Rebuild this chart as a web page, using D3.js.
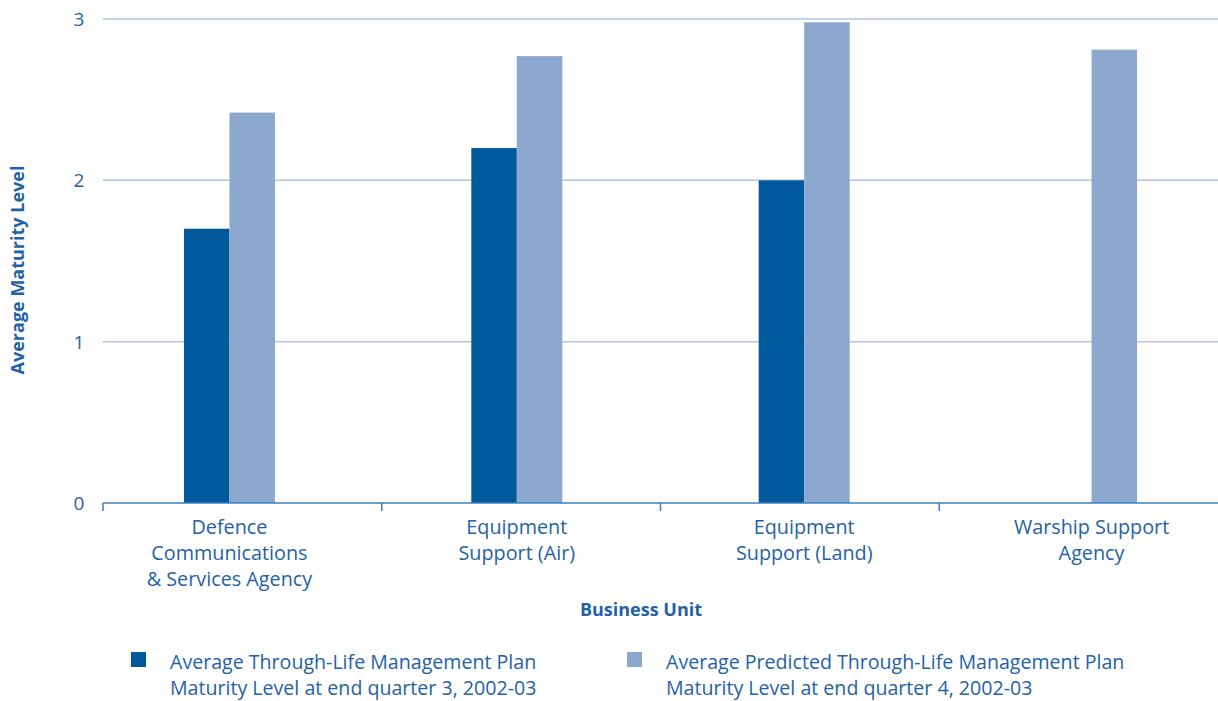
<!DOCTYPE html>
<html>
<head>
<meta charset="utf-8">
<script src="https://cdn.jsdelivr.net/npm/d3@7"></script>
<style>
  body { margin: 0; background: #fff; }
  svg text { font-family: "Open Sans", sans-serif; fill: #1f62a6; }
</style>
</head>
<body>
<svg id="chart" width="1218" height="701"></svg>
<script>
// data
var units = [ ["Defence", "Communications", "& Services Agency"],
              ["Equipment", "Support (Air)"],
              ["Equipment", "Support (Land)"],
              ["Warship Support", "Agency"] ];
var q3 = [ 1.7, 2.2, 2.0, null ];
var q4 = [ 2.42, 2.77, 2.98, 2.81 ];
var yTicks = [ 0, 1, 2, 3 ];
var seriesNames = [
    ["Average Through-Life Management Plan", "Maturity Level at end quarter 3, 2002-03"],
    ["Average Predicted Through-Life Management Plan", "Maturity Level at end quarter 4, 2002-03"] ];
var colors = [ "#00599c", "#8ca8cf" ];

window.addEventListener( "load", makeChart );
function makeChart() {
    var svg = d3.select( "#chart" );
    var left = 103, right = 1218, top = 19, bottom = 503;

    // band scale for the axis ticks, point scale for the bar groups
    var x = d3.scaleBand().domain( d3.range(units.length) ).range( [left, right] );
    var xc = d3.scalePoint().domain( d3.range(units.length) ).range( [left, right] ).padding( 0.44 );
    var y = d3.scaleLinear().domain( [0, 3] ).range( [bottom, top] );
    var barW = 45.5;

    // gridlines
    svg.append( "g" ).selectAll( "line" ).data( yTicks.filter(d=>d>0) ).enter()
        .append( "line" )
        .attr( "x1", left ).attr( "x2", right )
        .attr( "y1", d=>y(d) ).attr( "y2", d=>y(d) )
        .attr( "stroke", "#b4c6de" ).attr( "stroke-width", 1.5 );

    // y tick labels
    svg.append( "g" ).selectAll( "text" ).data( yTicks ).enter()
        .append( "text" )
        .attr( "x", 79 ).attr( "y", d=>y(d)+7 )
        .attr( "text-anchor", "middle" ).attr( "font-size", 19 )
        .text( d=>d );

    // bars
    var bars = [];
    units.forEach( function(u, i) {
        if( q3[i] != null ) bars.push( { i: i, s: 0, v: q3[i] } );
        if( q4[i] != null ) bars.push( { i: i, s: 1, v: q4[i] } );
    } );
    svg.append( "g" ).selectAll( "rect" ).data( bars ).enter()
        .append( "rect" )
        .attr( "x", d=>xc(d.i) - barW + d.s*barW )
        .attr( "y", d=>y(d.v) )
        .attr( "width", barW )
        .attr( "height", d=>y(0)-y(d.v) )
        .attr( "fill", d=>colors[d.s] );

    // x axis line and ticks
    var ax = svg.append( "g" ).attr( "stroke", "#3f7fbc" ).attr( "stroke-width", 1.5 );
    ax.append( "line" ).attr( "x1", left ).attr( "x2", right )
        .attr( "y1", bottom ).attr( "y2", bottom );
    ax.selectAll( "line.tk" ).data( d3.range(units.length) ).enter()
        .append( "line" ).attr( "class", "tk" )
        .attr( "x1", d=>x(d) ).attr( "x2", d=>x(d) )
        .attr( "y1", bottom ).attr( "y2", bottom+8 );

    // category labels
    var lab = svg.append( "g" ).selectAll( "text" ).data( units ).enter()
        .append( "text" )
        .attr( "text-anchor", "middle" ).attr( "font-size", 19.8 )
        .attr( "transform", (d,i)=>"translate(" + xc(i) + "," + 534 + ")" );
    lab.selectAll( "tspan" ).data( d=>d ).enter()
        .append( "tspan" ).attr( "x", 0 ).attr( "y", (d,j)=>j*26 )
        .text( d=>d );

    // axis titles
    svg.append( "text" )
        .attr( "x", 641 ).attr( "y", 616 )
        .attr( "text-anchor", "middle" ).attr( "font-size", 18 ).attr( "font-weight", "bold" )
        .text( "Business Unit" );
    svg.append( "text" )
        .attr( "transform", "translate(24,270) rotate(-90)" )
        .attr( "text-anchor", "middle" ).attr( "font-size", 18 ).attr( "font-weight", "bold" )
        .text( "Average Maturity Level" );

    // legend
    var lg = svg.append( "g" ).selectAll( "g" ).data( seriesNames ).enter()
        .append( "g" )
        .attr( "transform", (d,i)=>"translate(" + (131 + i*496) + ",652)" );
    lg.append( "rect" ).attr( "width", 15 ).attr( "height", 15 )
        .attr( "fill", (d,i)=>colors[i] );
    var lt = lg.append( "text" ).attr( "font-size", 19.6 );
    lt.selectAll( "tspan" ).data( d=>d ).enter()
        .append( "tspan" ).attr( "x", 39 ).attr( "y", (d,j)=>17 + j*26 )
        .text( d=>d );
}
</script>
</body>
</html>
